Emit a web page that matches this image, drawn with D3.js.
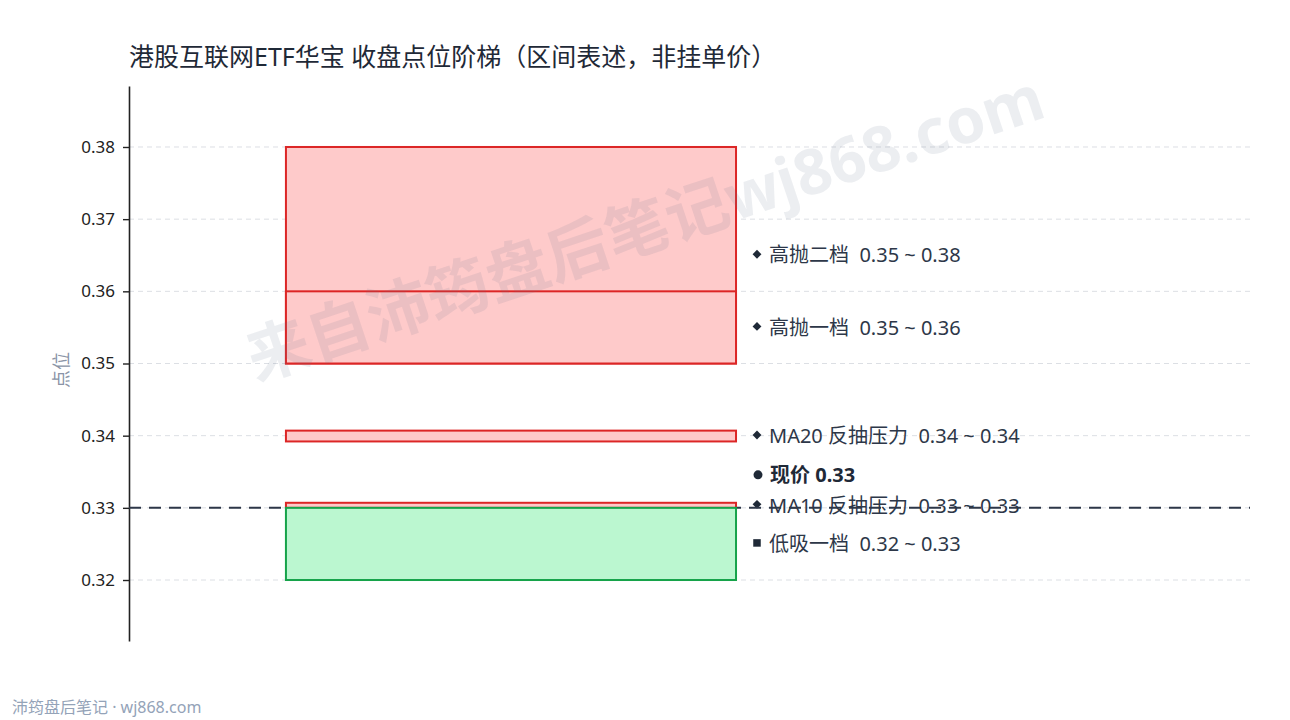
<!DOCTYPE html>
<html><head><meta charset="utf-8">
<script src="https://cdn.jsdelivr.net/npm/d3@7"></script>
<style>
html,body{margin:0;padding:0;background:#fff;}
svg{display:block;font-family:"Noto Sans","Noto Sans CJK SC",sans-serif;}
text{white-space:pre;}
</style></head>
<body>
<svg id="chart" width="1290" height="720"></svg>
<script>
const title = "港股互联网ETF华宝 收盘点位阶梯（区间表述，非挂单价）";
const yAxisTitle = "点位";
const footer = "沛筠盘后笔记 · wj868.com";
const watermark = "来自沛筠盘后笔记wj868.com";
const tickValues = [0.32, 0.33, 0.34, 0.35, 0.36, 0.37, 0.38];
const zoneNames = ["高抛二档", "高抛一档", "MA20 反抽压力", "MA10 反抽压力", "低吸一档"];
const zoneLows  = [0.35, 0.35, 0.3392, 0.3300, 0.32];
const zoneHighs = [0.38, 0.36, 0.3407, 0.3307, 0.33];
const zoneKinds = ["sell", "sell", "resist", "resist", "buy"];
const currentPrice = 0.33;
const currentLabel = "现价";

const svg = d3.select("#chart");
const plot = {left: 129, right: 1250, top: 86, bottom: 641};
const y = d3.scaleLinear().domain([0.31155, 0.38845]).range([plot.bottom, plot.top]);
const x = d3.scaleLinear().domain([0, 1]).range([plot.left, plot.right]);

const styles = {
  sell:   {fill: "#fecaca", stroke: "#dc2626", symbol: d3.symbolDiamond2, size: 50},
  resist: {fill: "#fecaca", stroke: "#dc2626", symbol: d3.symbolDiamond2, size: 50},
  buy:    {fill: "#bbf7d0", stroke: "#16a34a", symbol: d3.symbolSquare2, size: 72}
};

// gridlines
svg.append("g").selectAll("line").data(tickValues).join("line")
  .attr("x1", plot.left).attr("x2", plot.right)
  .attr("y1", d => y(d)).attr("y2", d => y(d))
  .attr("stroke", "#dcdfe4").attr("stroke-width", 1).attr("stroke-dasharray", "5,4");

// title
svg.append("text").attr("x", plot.left).attr("y", 66)
  .attr("font-size", 25).attr("fill", "#1f2937").text(title);

// y axis
const axis = svg.append("g").attr("transform", `translate(${plot.left},0)`)
  .call(d3.axisLeft(y).tickValues(tickValues).tickFormat(d3.format(".2f")).tickSize(6).tickSizeOuter(0));
axis.select(".domain").attr("stroke", "#222").attr("stroke-width", 1.6);
axis.selectAll(".tick line").attr("stroke", "#222").attr("stroke-width", 1.4);
axis.selectAll(".tick text").attr("font-size", 17).attr("fill", "#222").attr("x", -14)
  .attr("font-family", "'Noto Sans','Noto Sans CJK SC',sans-serif");

svg.append("text").attr("transform", `translate(68,370) rotate(-90)`)
  .attr("text-anchor", "middle").attr("font-size", 18).attr("fill", "#8a94a6").text(yAxisTitle);

// labels
const zones = zoneNames.map((n, i) => ({name: n, lo: zoneLows[i], hi: zoneHighs[i], kind: zoneKinds[i]}));
const fmt = d3.format(".2f");
const labX = 757;
const lg = svg.append("g");
zones.forEach(z => {
  const cy = y((z.lo + z.hi) / 2);
  const st = styles[z.kind];
  lg.append("path").attr("d", d3.symbol().type(st.symbol).size(st.size)())
    .attr("transform", `translate(${labX},${cy - 1})`).attr("fill", "#1f2937");
  lg.append("text").attr("x", labX + 12).attr("y", cy).attr("dy", "0.36em")
    .attr("font-size", 20).attr("fill", "#2d3748")
    .text(`${z.name}  ${fmt(z.lo)} ~ ${fmt(z.hi)}`);
});
const py = y(currentPrice) - 33;
lg.append("circle").attr("cx", labX + 1).attr("cy", py).attr("r", 4.5).attr("fill", "#1f2937");
lg.append("text").attr("x", labX + 13).attr("y", py).attr("dy", "0.36em")
  .attr("font-size", 20).attr("font-weight", "bold").attr("fill", "#1f2937")
  .text(`${currentLabel} ${fmt(currentPrice)}`);

// current price line
svg.append("line").attr("x1", plot.left).attr("x2", plot.right)
  .attr("y1", y(currentPrice)).attr("y2", y(currentPrice))
  .attr("stroke", "#2d3748").attr("stroke-width", 2).attr("stroke-dasharray", "12,8");

// boxes
svg.append("g").selectAll("rect").data(zones).join("rect")
  .attr("x", x(0.14)).attr("width", x(0.5415) - x(0.14))
  .attr("y", d => y(d.hi)).attr("height", d => y(d.lo) - y(d.hi))
  .attr("fill", d => styles[d.kind].fill).attr("stroke", d => styles[d.kind].stroke)
  .attr("stroke-width", 2);

// footer
svg.append("text").attr("x", 12).attr("y", 713).attr("font-size", 16)
  .attr("fill", "#94a3b8").text(footer);

// watermark
svg.append("text").attr("transform", "translate(645,228) rotate(-18.5)")
  .attr("text-anchor", "middle").attr("dy", "0.35em")
  .attr("font-size", 63).attr("font-weight", "bold")
  .attr("fill", "#64748b").attr("fill-opacity", 0.12).text(watermark);
</script>
</body></html>
